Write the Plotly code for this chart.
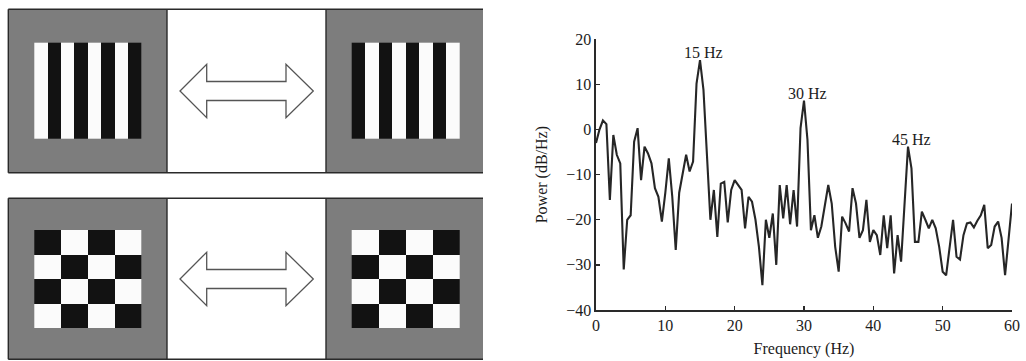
import plotly.graph_objects as go

# ---------------- data ----------------
freq_step = 0.5
power_db = [
    -3.0, 0.0, 2.0, 1.2, -15.6, -1.2, -5.6, -7.5, -31.0, -20.0,
    -19.0, -2.7, 0.3, -11.2, -3.8, -5.3, -7.5, -13.0, -14.9, -20.4,
    -14.0, -6.4, -14.9, -26.7, -14.0, -9.7, -5.6, -9.3, -7.1, 10.2,
    15.4, 8.8, -6.0, -20.0, -13.4, -23.8, -12.0, -11.6, -20.6, -13.4,
    -11.2, -12.3, -13.4, -21.9, -14.9, -16.0, -20.0, -26.0, -34.5, -20.0,
    -24.0, -18.6, -30.0, -12.3, -19.7, -12.3, -21.0, -13.4, -21.5, 0.3,
    6.4, -2.3, -22.3, -19.0, -24.0, -21.5, -16.4, -12.3, -16.4, -26.0,
    -31.5, -19.3, -20.8, -22.6, -13.0, -16.4, -24.0, -22.3, -15.6, -24.9,
    -22.3, -23.4, -27.8, -19.0, -26.3, -19.0, -31.9, -23.4, -29.3, -15.3,
    -3.8, -8.6, -24.9, -24.9, -18.2, -20.0, -21.9, -20.0, -21.9, -26.0,
    -31.5, -32.3, -25.6, -20.0, -28.2, -28.8, -23.4, -20.8, -20.6, -21.7,
    -20.2, -19.0, -16.7, -26.3, -25.6, -21.5, -20.4, -24.0, -32.3, -24.5,
    -16.4,
]
freq_hz = [i * freq_step for i in range(len(power_db))]

peak_freqs = [15, 30, 45]
peak_labels = ["15 Hz", "30 Hz", "45 Hz"]

x_ticks = [0, 10, 20, 30, 40, 50, 60]
y_ticks = [-40, -30, -20, -10, 0, 10, 20]

# stimulus patterns (1 = white, 0 = black)
grating_a = [[1, 0, 1, 0, 1, 0, 1, 0]]
grating_b = [[0, 1, 0, 1, 0, 1, 0, 1]]
checker_a = [[0, 1, 0, 1], [1, 0, 1, 0], [0, 1, 0, 1], [1, 0, 1, 0]]
checker_b = [[1, 0, 1, 0], [0, 1, 0, 1], [1, 0, 1, 0], [0, 1, 0, 1]]

# ---------------- layout constants ----------------
W, H = 1026, 361
FONT = "Liberation Serif"
INK = "#1c1c1c"
GRAY = "#7d7d7d"

fig = go.Figure()

# spectrum
fig.add_trace(go.Scatter(x=freq_hz, y=power_db, mode="lines",
                         line=dict(color="#262626", width=2.1), hoverinfo="skip",
                         showlegend=False, xaxis="x", yaxis="y"))

# stimulus panels (pixel coordinate axes)
rows = [dict(top=9.3, bot=172.7, box_top=42.7, box_bot=138.3, cy=91.0,
             left_pat=grating_a, right_pat=grating_b),
        dict(top=198.3, bot=359.3, box_top=230.0, box_bot=328.3, cy=279.0,
             left_pat=checker_a, right_pat=checker_b)]
col_edges = [8.3, 167.0, 326.0, 483.0]
box_x = [(34.3, 141.7), (351.7, 459.3)]

shapes = []
for r in rows:
    # gray panels
    for (x0, x1) in [(col_edges[0], col_edges[1]), (col_edges[2], col_edges[3])]:
        shapes.append(dict(type="rect", xref="x2", yref="y2", x0=x0, x1=x1,
                           y0=r["top"], y1=r["bot"], fillcolor=GRAY,
                           line=dict(width=0), layer="below"))
    # border lines
    for yy in (r["top"], r["bot"]):
        shapes.append(dict(type="line", xref="x2", yref="y2", x0=col_edges[0],
                           x1=col_edges[3], y0=yy, y1=yy,
                           line=dict(color="#2a2a2a", width=1.6)))
    for xx in col_edges[:3]:
        shapes.append(dict(type="line", xref="x2", yref="y2", x0=xx, x1=xx,
                           y0=r["top"], y1=r["bot"],
                           line=dict(color="#2a2a2a", width=1.4)))
    # double arrow
    cy = r["cy"]
    lt, li, ri, rt = 180.0, 206.7, 286.0, 313.3
    hh, hs = 26.8, 9.5
    path = (f"M {lt},{cy} L {li},{cy-hh} L {li},{cy-hs} L {ri},{cy-hs} "
            f"L {ri},{cy-hh} L {rt},{cy} L {ri},{cy+hh} L {ri},{cy+hs} "
            f"L {li},{cy+hs} L {li},{cy+hh} Z")
    shapes.append(dict(type="path", xref="x2", yref="y2", path=path,
                       fillcolor="white", line=dict(color="#555555", width=1.3)))
    # patterns
    for (bx, pat) in zip(box_x, [r["left_pat"], r["right_pat"]]):
        ncol = len(pat[0]); nrow = len(pat)
        cw = (bx[1] - bx[0]) / ncol
        ch = (r["box_bot"] - r["box_top"]) / nrow
        fig.add_trace(go.Heatmap(z=pat, x0=bx[0] + cw / 2, dx=cw,
                                 y0=r["box_top"] + ch / 2, dy=ch,
                                 colorscale=[[0, "#121212"], [1, "#fbfbfb"]],
                                 zmin=0, zmax=1, showscale=False,
                                 hoverinfo="skip", xaxis="x2", yaxis="y2"))

annotations = []
for f, lab in zip(peak_freqs, peak_labels):
    idx = freq_hz.index(f)
    annotations.append(dict(x=f, y=power_db[idx], xref="x", yref="y", text=lab,
                            showarrow=False, yanchor="bottom", xanchor="center",
                            xshift=3, yshift=-3,
                            font=dict(family=FONT, size=16, color=INK)))

axis_common = dict(showline=True, linecolor="#2a2a2a", linewidth=1.6,
                   ticks="inside", ticklen=4, tickwidth=1.4, tickcolor="#2a2a2a",
                   showgrid=False, zeroline=False, automargin=False,
                   tickfont=dict(family=FONT, size=16, color=INK))

fig.update_layout(
    template="none",
    width=W, height=H, margin=dict(l=0, r=0, t=0, b=0, pad=0, autoexpand=False),
    paper_bgcolor="white", plot_bgcolor="white", showlegend=False,
    xaxis=dict(domain=[596 / W, 1012 / W], range=[0, 60], tickvals=x_ticks,
               anchor="y",
               title=dict(text="Frequency (Hz)", standoff=10,
                          font=dict(family=FONT, size=16, color=INK)),
               **axis_common),
    yaxis=dict(domain=[1 - 310 / H, 1 - 39.3 / H], range=[-40, 20],
               tickvals=y_ticks, anchor="x",
               title=dict(text="Power (dB/Hz)", standoff=14,
                          font=dict(family=FONT, size=16, color=INK)),
               **axis_common),
    xaxis2=dict(domain=[0, 500 / W], range=[0, 500], visible=False,
                fixedrange=True, anchor="y2", automargin=False),
    yaxis2=dict(domain=[0, 1], range=[H, 0], visible=False,
                fixedrange=True, anchor="x2", automargin=False),
    shapes=shapes, annotations=annotations,
)

fig.write_html(
    "out.html",
    config={"displayModeBar": False, "staticPlot": True},
    post_script="document.body.style.margin='0';document.body.style.overflow='hidden';",
)
